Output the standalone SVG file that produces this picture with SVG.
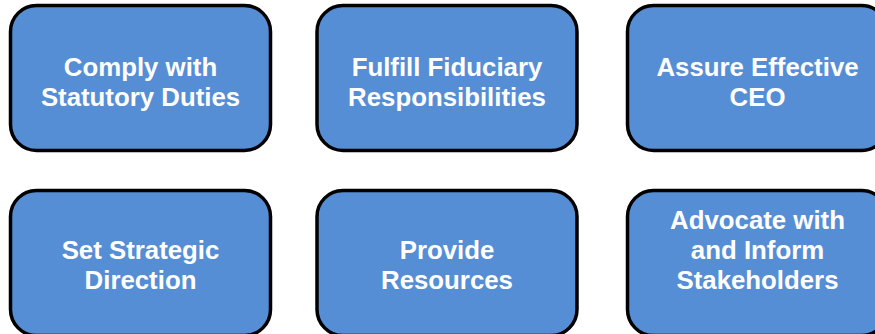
<svg xmlns="http://www.w3.org/2000/svg" width="875" height="334" viewBox="0 0 875 334">
  <style>
    .box { fill: #558ed5; stroke: #000000; stroke-width: 3.5; }
    .label { fill: #ffffff; font-family: "Liberation Sans", Arial, sans-serif; font-weight: bold; font-size: 25.8px; text-anchor: middle; }
  </style>
  <rect width="875" height="334" fill="#ffffff"/>

  <!-- top row -->
  <g id="comply">
    <rect class="box" x="10.5" y="5.5" width="260" height="145" rx="26" ry="26"/>
    <text class="label" x="140.5" y="76">Comply with</text>
    <text class="label" x="140.5" y="106">Statutory Duties</text>
  </g>
  <g id="fiduciary">
    <rect class="box" x="317" y="5.5" width="260" height="145" rx="26" ry="26"/>
    <text class="label" x="447" y="76">Fulfill Fiduciary</text>
    <text class="label" x="447" y="106">Responsibilities</text>
  </g>
  <g id="ceo">
    <rect class="box" x="627.5" y="5.5" width="260" height="145" rx="26" ry="26"/>
    <text class="label" x="757.5" y="76">Assure Effective</text>
    <text class="label" x="757.5" y="106">CEO</text>
  </g>

  <!-- bottom row -->
  <g id="strategy">
    <rect class="box" x="10.5" y="190.5" width="260" height="145" rx="26" ry="26"/>
    <text class="label" x="140.5" y="259">Set Strategic</text>
    <text class="label" x="140.5" y="289">Direction</text>
  </g>
  <g id="resources">
    <rect class="box" x="317" y="190.5" width="260" height="145" rx="26" ry="26"/>
    <text class="label" x="447" y="259">Provide</text>
    <text class="label" x="447" y="289">Resources</text>
  </g>
  <g id="stakeholders">
    <rect class="box" x="627.5" y="190.5" width="260" height="145" rx="26" ry="26"/>
    <text class="label" x="757.5" y="229">Advocate with</text>
    <text class="label" x="757.5" y="259">and Inform</text>
    <text class="label" x="757.5" y="289">Stakeholders</text>
  </g>

  <g id="connectors"/>
</svg>
